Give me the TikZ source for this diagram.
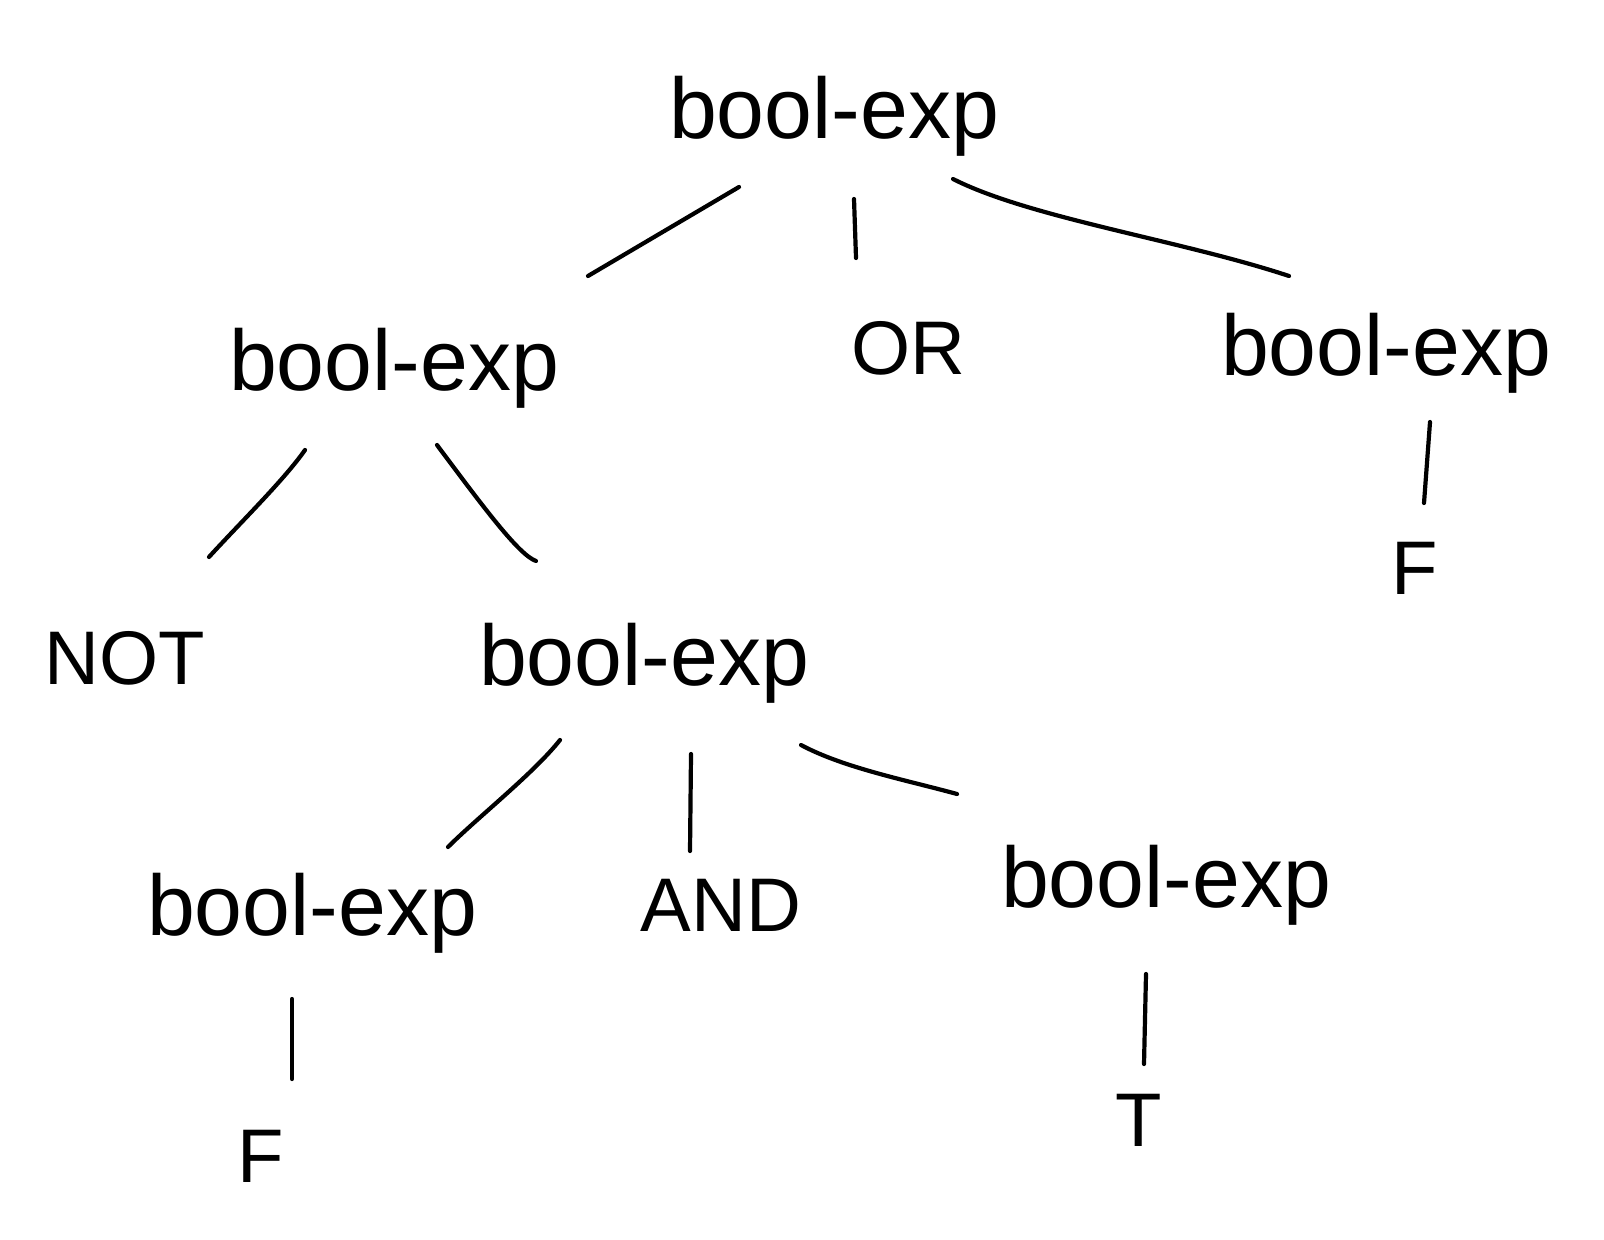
\documentclass[tikz,border=0pt]{standalone}
\usepackage{fontspec}
\setmainfont{Liberation Sans}
\usetikzlibrary{calc}
\begin{document}
\begin{tikzpicture}[x=0.5pt,y=-0.5pt,
  lbl/.style={inner sep=0pt,font=\fontsize{43}{48}\selectfont},
  kw/.style={inner sep=0pt,font=\fontsize{38}{42}\selectfont},
  edge/.style={line width=2.1pt,line cap=round}]
\useasboundingbox[fill=white] (0,0) rectangle (1604,1240);
\node[lbl] (root) at (834,116) {bool-exp};
\node[lbl] (lexp) at (394,368) {bool-exp};
\node[kw] (or) at (908,348) {OR};
\node[lbl] (rexp) at (1386,353) {bool-exp};
\node[kw] (rf) at (1415,568) {F};
\node[kw] (not) at (125,658) {NOT};
\node[lbl] (mexp) at (644,663) {bool-exp};
\node[lbl] (blexp) at (312,913) {bool-exp};
\node[kw] (and) at (721,905) {AND};
\node[lbl] (brexp) at (1166,885) {bool-exp};
\node[kw] (bf) at (261,1156) {F};
\node[kw] (bt) at (1139,1120) {T};
% root edges
\draw[edge] ($(root)+(-95,71)$) -- ($(lexp)+(194,-92)$);
\draw[edge] ($(root)+(20,83)$) -- ($(or)+(-52,-90)$);
\draw[edge] ($(root)+(119,63)$) .. controls ($(root)+(196,102)$) and ($(rexp)+(-206,-113)$) .. ($(rexp)+(-97,-77)$);
% lexp edges
\draw[edge] ($(lexp)+(-89,82)$) .. controls ($(lexp)+(-110,112)$) and ($(not)+(115,-135)$) .. ($(not)+(84,-101)$);
\draw[edge] ($(lexp)+(43,77)$) .. controls ($(lexp)+(90,140)$) and ($(mexp)+(-125,-108)$) .. ($(mexp)+(-108,-102)$);
% rexp edge
\draw[edge] ($(rexp)+(44,69)$) -- ($(rf)+(9,-65)$);
% mexp edges
\draw[edge] ($(mexp)+(-84,77)$) .. controls ($(mexp)+(-110,110)$) and ($(blexp)+(165,-95)$) .. ($(blexp)+(136,-66)$);
\draw[edge] ($(mexp)+(47,91)$) -- ($(and)+(-31,-54)$);
\draw[edge] ($(mexp)+(157,82)$) .. controls ($(mexp)+(200,105)$) and ($(brexp)+(-260,-105)$) .. ($(brexp)+(-209,-91)$);
% leaf edges
\draw[edge] ($(blexp)+(-20,86)$) -- ($(bf)+(31,-77)$);
\draw[edge] ($(brexp)+(-20,89)$) -- ($(bt)+(5,-56)$);
\end{tikzpicture}
\end{document}
